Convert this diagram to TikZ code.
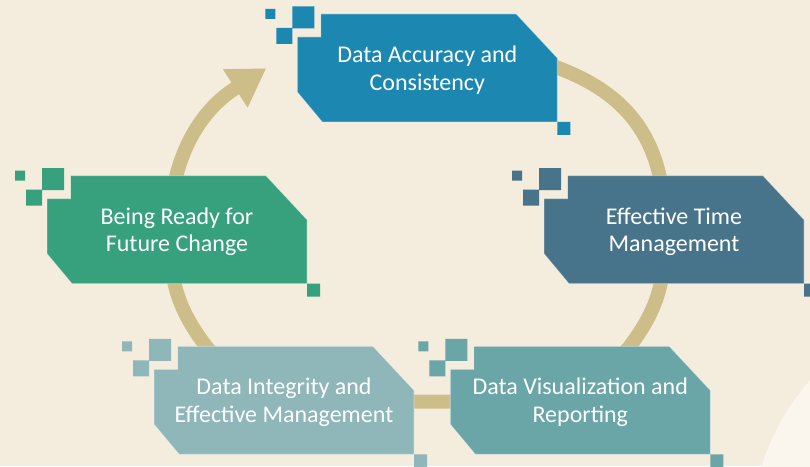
\documentclass[tikz,border=0pt]{standalone}
\usepackage{fontspec}
\setmainfont{Carlito}
\usepackage{tikz}
\usetikzlibrary{
    arrows.meta,
    positioning,
    backgrounds
}
\usepackage{xcolor}

\definecolor{paper}{HTML}{F4ECDC}
\definecolor{glow}{HTML}{FAF6EE}
\definecolor{ringtan}{HTML}{CDBE89}
\definecolor{accblue}{HTML}{1C88B1}
\definecolor{timeslate}{HTML}{47748A}
\definecolor{reportteal}{HTML}{6AA5A7}
\definecolor{integritygrey}{HTML}{8FB6B9}
\definecolor{changegreen}{HTML}{37A07C}

\begin{document}
\begin{tikzpicture}[
            x=1pt,
            y=1pt,
            card/.style={
                rectangle,
                minimum width=260pt,
                minimum height=108pt,
                inner sep=0pt,
                outer sep=0pt,
                text depth=0pt,
                align=center,
                text=white,
                font=\fontsize{24}{27.5}\selectfont
            },
            outline/.style={
                insert path={
                    ([xshift=23.5pt]#1.north west) -- ([xshift=-41pt]#1.north east)
                    -- ([yshift=-44pt]#1.north east) -- (#1.south east)
                    -- ([xshift=25pt]#1.south west) -- ([yshift=30pt]#1.south west)
                    -- ([yshift=-23pt]#1.north west)
                    -- ([shift={(23.5pt,-23pt)}]#1.north west) -- cycle
                }
            },
            bits/.style={
                insert path={
                    ([shift={(-32pt,5pt)}]#1.north west) rectangle ++(10pt,-10pt)
                    ([shift={(-5pt,7.5pt)}]#1.north west) rectangle ++(22pt,-22pt)
                    ([shift={(-21pt,-14pt)}]#1.north west) rectangle ++(16pt,-16pt)
                    (#1.south east) rectangle ++(13pt,-13pt)
                }
            },
            plate/.style={
                fill=#1,
                draw=white,
                draw opacity=0.45,
                line width=0.8pt
            },
            ring/.style={
                draw=ringtan,
                line width=14pt,
                -{Triangle[length=37pt,width=43pt]}
            }
            ]

            \useasboundingbox (0,0) rectangle (810,466);

            \node[card] (accuracy) at (427.3,398)
            {Data Accuracy and\\Consistency};

            \node[card] (timing) at (674,236.3)
            {Effective Time\\Management};

            \node[card] (reporting) at (580.3,65.7)
            {Data Visualization and\\Reporting};

            \node[card] (integrity) at (284,65.7)
            {Data Integrity and\\Effective Management};

            \node[card] (change) at (177,236.3)
            {Being Ready for\\Future Change};

            \begin{scope}[on background layer]
                \fill[paper] (0,0) rectangle (810,466);
                \begin{scope}
                    \clip (0,0) rectangle (810,466);
                    \fill[glow] (986,-70) circle[radius=235];
                \end{scope}

                % the cycle runs clockwise and ends in the arrow
                \draw[ring]
                (490,422) .. controls (520,411) and (540,404.8) .. (557,398.5)
                .. controls (627.2,372.2) and (665,327) .. (665,237)
                .. controls (665,187) and (660,160) .. (630,120)
                .. controls (606,88) and (520,64.3) .. (450,64.3)
                -- (414,64.3)
                .. controls (330,64.3) and (229.8,88) .. (205.8,120)
                .. controls (175.8,160) and (169.8,187) .. (169.8,237)
                .. controls (169.8,297) and (192.8,350) .. (234.7,377.3)
                -- (266.3,397.7);

                \path[plate=accblue, outline=accuracy];
                \fill[accblue, bits=accuracy];

                \path[plate=timeslate, outline=timing];
                \fill[timeslate, bits=timing];

                \path[plate=reportteal, outline=reporting];
                \fill[reportteal, bits=reporting];

                \path[plate=integritygrey, outline=integrity];
                \fill[integritygrey, bits=integrity];

                \path[plate=changegreen, outline=change];
                \fill[changegreen, bits=change];
            \end{scope}

        \end{tikzpicture}
\end{document}
